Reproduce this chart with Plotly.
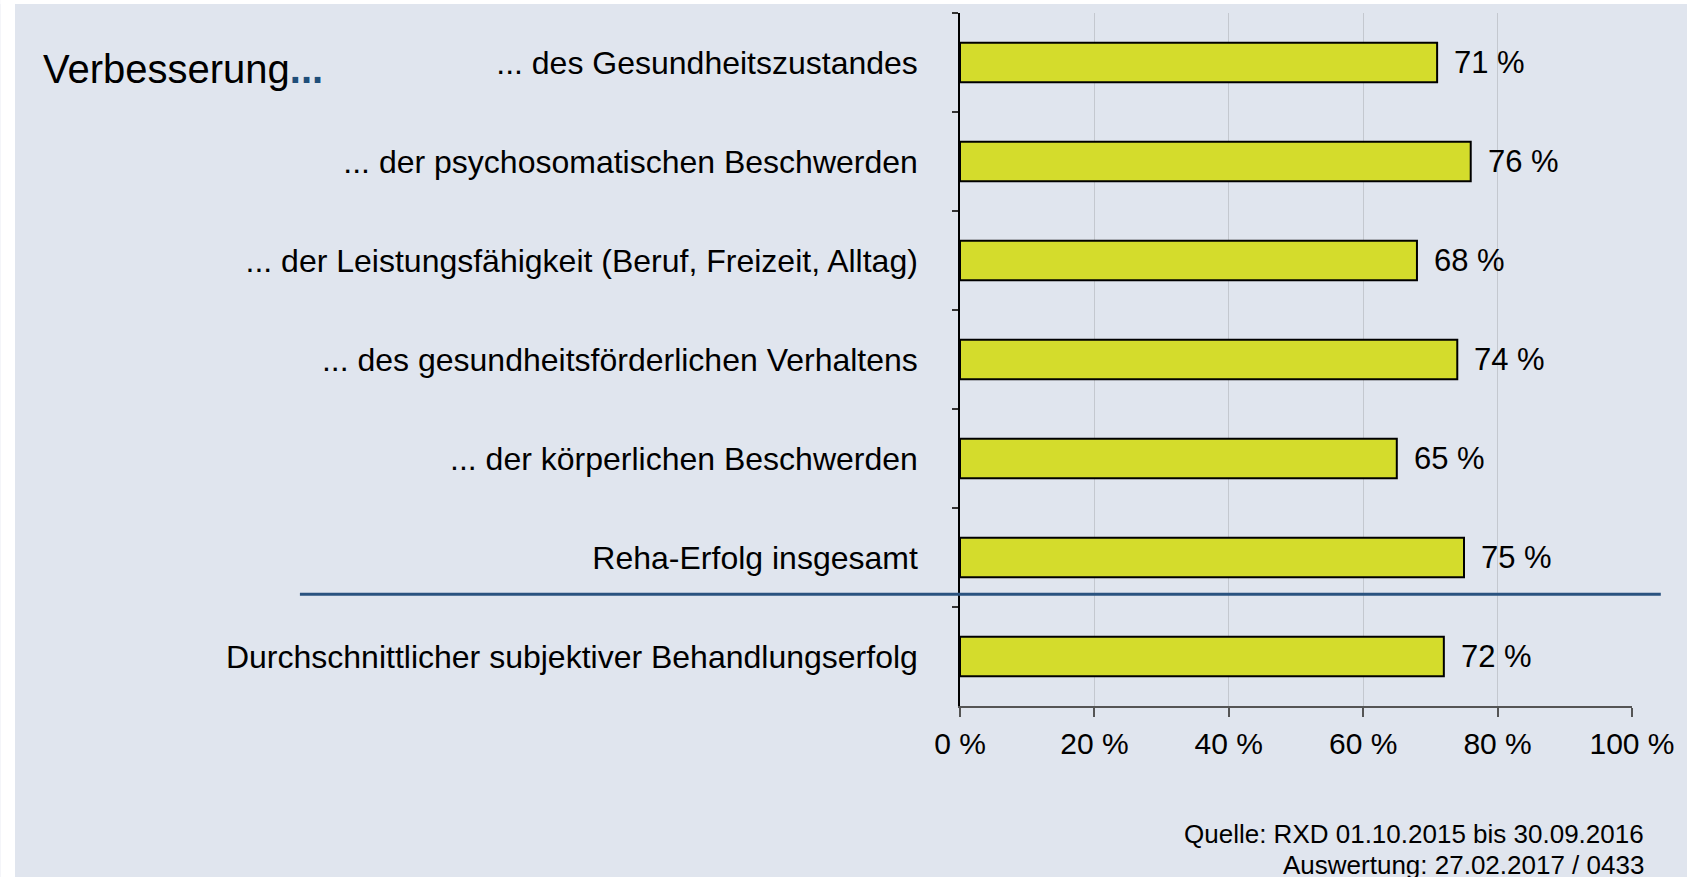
import plotly.graph_objects as go

categories = [
    "... des Gesundheitszustandes",
    "... der psychosomatischen Beschwerden",
    "... der Leistungsfähigkeit (Beruf, Freizeit, Alltag)",
    "... des gesundheitsförderlichen Verhaltens",
    "... der körperlichen Beschwerden",
    "Reha-Erfolg insgesamt",
    "Durchschnittlicher subjektiver Behandlungserfolg",
]
values = [71, 76, 68, 74, 65, 75, 72]
x_ticks = [0, 20, 40, 60, 80, 100]
x_tick_labels = ["0 %", "20 %", "40 %", "60 %", "80 %", "100 %"]
title_text = "Verbesserung"
source_lines = ["Quelle: RXD 01.10.2015 bis 30.09.2016", "Auswertung: 27.02.2017 / 0433"]

FONT = "Liberation Sans, Arial, sans-serif"
BG = "#e0e5ee"
BAR = "#d4dc2c"

W, H = 1687, 877
L, R, T, B = 960, 50, 13, 171
pw = W - L - R
ph = H - T - B

fig = go.Figure()
fig.add_trace(go.Bar(
    x=values, y=categories, orientation="h",
    marker=dict(color=BAR, line=dict(color="#000000", width=2)),
    width=0.4, hoverinfo="x+y",
))

annotations = []
for c, v in zip(categories, values):
    annotations.append(dict(
        x=v, y=c, xref="x", yref="y", text=f"{v} %", showarrow=False,
        xanchor="left", yanchor="middle", xshift=15,
        font=dict(family=FONT, size=31, color="#000000"),
    ))

src_y = [(706 - 834) / ph, (706 - 865) / ph]
for line, yy in zip(source_lines, src_y):
    annotations.append(dict(
        x=1 + (1651 - (W - R)) / pw, y=yy, xref="paper", yref="paper",
        text=line, showarrow=False, xanchor="right", yanchor="middle",
        font=dict(family=FONT, size=26, color="#000000"),
    ))

shapes = [
    # white margin strips at top and left
    dict(type="rect", xref="paper", yref="paper",
         x0=-L / pw - 0.01, x1=1 + R / pw + 0.01, y0=1 + (T - 4) / ph, y1=1 + T / ph + 0.01,
         fillcolor="#ffffff", line=dict(width=0), layer="below"),
    dict(type="rect", xref="paper", yref="paper",
         x0=-L / pw - 0.01, x1=(8 - L) / pw, y0=-B / ph - 0.01, y1=1 + T / ph + 0.01,
         fillcolor="#ffffff", line=dict(width=0), layer="below"),
    # separator line between "Reha-Erfolg insgesamt" and the average
    dict(type="line", xref="paper", yref="y",
         x0=(295 - L) / pw, x1=(1666 - L) / pw, y0=5.37, y1=5.37,
         line=dict(color="#2a527f", width=3)),
]

fig.update_layout(
    width=W, height=H,
    margin=dict(l=L, r=R, t=T, b=B, pad=0),
    paper_bgcolor=BG, plot_bgcolor=BG,
    showlegend=False,
    title=dict(
        text=title_text + "<span style='color:#1f4e79'><b>...</b></span>",
        x=43 / W, xref="container", xanchor="left",
        y=1 - 69 / H, yref="container", yanchor="middle",
        font=dict(family=FONT, size=40, color="#000000"),
    ),
    annotations=annotations,
    shapes=shapes,
    bargap=0.6,
)

fig.update_xaxes(
    range=[0, 100], tickvals=x_ticks, ticktext=x_tick_labels,
    showgrid=True, gridcolor="#c4c8cf", gridwidth=1,
    showline=True, linecolor="#555555", linewidth=1.5,
    ticks="outside", ticklen=9, tickcolor="#555555", tickwidth=1.5,
    ticklabelstandoff=1,
    tickfont=dict(family=FONT, size=30, color="#000000"),
    zeroline=False, fixedrange=True,
)
fig.update_yaxes(
    categoryorder="array", categoryarray=categories, autorange="reversed",
    showline=True, linecolor="#000000", linewidth=1.5,
    ticks="outside", ticklen=6, tickcolor="#333333", tickwidth=1.5,
    tickson="boundaries", showgrid=False,
    ticklabelstandoff=34,
    tickfont=dict(family=FONT, size=32, color="#000000"),
    fixedrange=True,
)

fig.write_html(
    "out.html",
    config={"displayModeBar": False},
    post_script="document.body.style.margin='0';document.body.style.overflow='hidden';",
)
